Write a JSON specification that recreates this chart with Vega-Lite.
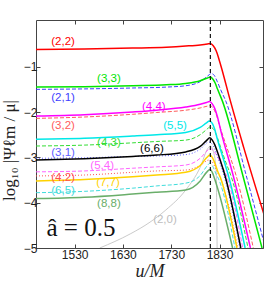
{
 "$schema": "https://vega.github.io/schema/vega-lite/v6.json",
 "width": 227,
 "height": 228,
 "autosize": {"type": "none"},
 "padding": {"left": 36, "top": 20, "right": 3, "bottom": 33},
 "background": "white",
 "config": {
  "view": {"stroke": "#444444", "strokeWidth": 1},
  "axis": {"grid": false, "domain": false, "tickSize": -4, "tickColor": "#444444", "labelFont": "Liberation Sans", "labelFontSize": 12, "labelColor": "#222222"}
 },
 "datasets": {
  "curves": [
   {"s":"(2,2)","u":1450,"v":-0.62},{"s":"(2,2)","u":1550,"v":-0.61},{"s":"(2,2)","u":1650,"v":-0.59},{"s":"(2,2)","u":1720,"v":-0.57},{"s":"(2,2)","u":1760,"v":-0.545},{"s":"(2,2)","u":1790,"v":-0.52},{"s":"(2,2)","u":1805,"v":-0.5},{"s":"(2,2)","u":1811,"v":-0.49},{"s":"(2,2)","u":1817,"v":-0.54},{"s":"(2,2)","u":1823,"v":-0.65},{"s":"(2,2)","u":1829,"v":-0.84},{"s":"(2,2)","u":1836,"v":-1.1},{"s":"(2,2)","u":1851,"v":-1.7},{"s":"(2,2)","u":1880,"v":-2.78},{"s":"(2,2)","u":1922,"v":-4.26},
   {"s":"(3,3)","u":1450,"v":-1.45},{"s":"(3,3)","u":1550,"v":-1.44},{"s":"(3,3)","u":1650,"v":-1.42},{"s":"(3,3)","u":1720,"v":-1.4},{"s":"(3,3)","u":1760,"v":-1.37},{"s":"(3,3)","u":1790,"v":-1.31},{"s":"(3,3)","u":1805,"v":-1.25},{"s":"(3,3)","u":1811,"v":-1.23},{"s":"(3,3)","u":1816,"v":-1.27},{"s":"(3,3)","u":1821,"v":-1.36},{"s":"(3,3)","u":1826,"v":-1.5},{"s":"(3,3)","u":1836,"v":-1.76},{"s":"(3,3)","u":1878,"v":-3.39},{"s":"(3,3)","u":1918,"v":-5.0},
   {"s":"(2,1)","u":1450,"v":-1.5},{"s":"(2,1)","u":1550,"v":-1.49},{"s":"(2,1)","u":1650,"v":-1.47},{"s":"(2,1)","u":1720,"v":-1.45},{"s":"(2,1)","u":1760,"v":-1.42},{"s":"(2,1)","u":1790,"v":-1.33},{"s":"(2,1)","u":1806,"v":-1.2},{"s":"(2,1)","u":1813,"v":-1.15},{"s":"(2,1)","u":1819,"v":-1.19},{"s":"(2,1)","u":1825,"v":-1.32},{"s":"(2,1)","u":1832,"v":-1.5},{"s":"(2,1)","u":1843,"v":-1.76},{"s":"(2,1)","u":1885,"v":-3.39},{"s":"(2,1)","u":1925,"v":-5.0},
   {"s":"(4,4)","u":1450,"v":-2.09},{"s":"(4,4)","u":1550,"v":-2.06},{"s":"(4,4)","u":1650,"v":-2.0},{"s":"(4,4)","u":1700,"v":-1.96},{"s":"(4,4)","u":1760,"v":-1.89},{"s":"(4,4)","u":1790,"v":-1.83},{"s":"(4,4)","u":1803,"v":-1.79},{"s":"(4,4)","u":1809,"v":-1.77},{"s":"(4,4)","u":1815,"v":-1.82},{"s":"(4,4)","u":1820,"v":-1.92},{"s":"(4,4)","u":1825,"v":-2.08},{"s":"(4,4)","u":1834,"v":-2.47},{"s":"(4,4)","u":1858,"v":-3.39},{"s":"(4,4)","u":1894,"v":-5.0},
   {"s":"(3,2)","u":1450,"v":-2.14},{"s":"(3,2)","u":1550,"v":-2.11},{"s":"(3,2)","u":1650,"v":-2.05},{"s":"(3,2)","u":1700,"v":-2.01},{"s":"(3,2)","u":1760,"v":-1.96},{"s":"(3,2)","u":1790,"v":-1.91},{"s":"(3,2)","u":1805,"v":-1.87},{"s":"(3,2)","u":1811,"v":-1.86},{"s":"(3,2)","u":1817,"v":-1.92},{"s":"(3,2)","u":1823,"v":-2.05},{"s":"(3,2)","u":1830,"v":-2.3},{"s":"(3,2)","u":1840,"v":-2.62},{"s":"(3,2)","u":1864,"v":-3.39},{"s":"(3,2)","u":1900,"v":-5.0},
   {"s":"(5,5)","u":1450,"v":-2.6},{"s":"(5,5)","u":1550,"v":-2.58},{"s":"(5,5)","u":1650,"v":-2.53},{"s":"(5,5)","u":1700,"v":-2.5},{"s":"(5,5)","u":1760,"v":-2.45},{"s":"(5,5)","u":1790,"v":-2.34},{"s":"(5,5)","u":1803,"v":-2.24},{"s":"(5,5)","u":1809,"v":-2.2},{"s":"(5,5)","u":1815,"v":-2.25},{"s":"(5,5)","u":1820,"v":-2.38},{"s":"(5,5)","u":1825,"v":-2.58},{"s":"(5,5)","u":1834,"v":-2.9},{"s":"(5,5)","u":1848,"v":-3.39},{"s":"(5,5)","u":1883,"v":-5.0},
   {"s":"(4,3)","u":1450,"v":-2.75},{"s":"(4,3)","u":1550,"v":-2.73},{"s":"(4,3)","u":1650,"v":-2.68},{"s":"(4,3)","u":1700,"v":-2.65},{"s":"(4,3)","u":1760,"v":-2.62},{"s":"(4,3)","u":1790,"v":-2.5},{"s":"(4,3)","u":1804,"v":-2.38},{"s":"(4,3)","u":1810,"v":-2.33},{"s":"(4,3)","u":1817,"v":-2.37},{"s":"(4,3)","u":1824,"v":-2.52},{"s":"(4,3)","u":1832,"v":-2.77},{"s":"(4,3)","u":1842,"v":-3.08},{"s":"(4,3)","u":1855,"v":-3.45},{"s":"(4,3)","u":1889,"v":-5.0},
   {"s":"(6,6)","u":1450,"v":-3.06},{"s":"(6,6)","u":1550,"v":-3.03},{"s":"(6,6)","u":1650,"v":-2.98},{"s":"(6,6)","u":1700,"v":-2.95},{"s":"(6,6)","u":1760,"v":-2.88},{"s":"(6,6)","u":1790,"v":-2.76},{"s":"(6,6)","u":1803,"v":-2.63},{"s":"(6,6)","u":1810,"v":-2.57},{"s":"(6,6)","u":1815,"v":-2.62},{"s":"(6,6)","u":1820,"v":-2.72},{"s":"(6,6)","u":1825,"v":-2.86},{"s":"(6,6)","u":1832,"v":-3.08},{"s":"(6,6)","u":1841,"v":-3.39},{"s":"(6,6)","u":1874,"v":-5.0},
   {"s":"(3,1)","u":1450,"v":-3.02},{"s":"(3,1)","u":1550,"v":-3.01},{"s":"(3,1)","u":1650,"v":-2.98},{"s":"(3,1)","u":1700,"v":-2.97},{"s":"(3,1)","u":1760,"v":-2.94},{"s":"(3,1)","u":1790,"v":-2.82},{"s":"(3,1)","u":1808,"v":-2.66},{"s":"(3,1)","u":1814,"v":-2.7},{"s":"(3,1)","u":1820,"v":-2.82},{"s":"(3,1)","u":1828,"v":-3.05},{"s":"(3,1)","u":1839,"v":-3.4},{"s":"(3,1)","u":1872,"v":-5.0},
   {"s":"(5,4)","u":1450,"v":-3.32},{"s":"(5,4)","u":1550,"v":-3.3},{"s":"(5,4)","u":1650,"v":-3.24},{"s":"(5,4)","u":1700,"v":-3.21},{"s":"(5,4)","u":1760,"v":-3.17},{"s":"(5,4)","u":1790,"v":-3.02},{"s":"(5,4)","u":1804,"v":-2.86},{"s":"(5,4)","u":1810,"v":-2.8},{"s":"(5,4)","u":1816,"v":-2.84},{"s":"(5,4)","u":1824,"v":-2.95},{"s":"(5,4)","u":1832,"v":-3.12},{"s":"(5,4)","u":1846,"v":-3.45},{"s":"(5,4)","u":1878,"v":-5.0},
   {"s":"(4,2)","u":1450,"v":-3.41},{"s":"(4,2)","u":1550,"v":-3.39},{"s":"(4,2)","u":1650,"v":-3.33},{"s":"(4,2)","u":1700,"v":-3.3},{"s":"(4,2)","u":1760,"v":-3.28},{"s":"(4,2)","u":1790,"v":-3.18},{"s":"(4,2)","u":1808,"v":-3.06},{"s":"(4,2)","u":1815,"v":-3.1},{"s":"(4,2)","u":1822,"v":-3.25},{"s":"(4,2)","u":1835,"v":-3.55},{"s":"(4,2)","u":1868,"v":-5.0},
   {"s":"(7,7)","u":1450,"v":-3.52},{"s":"(7,7)","u":1550,"v":-3.49},{"s":"(7,7)","u":1650,"v":-3.43},{"s":"(7,7)","u":1700,"v":-3.39},{"s":"(7,7)","u":1760,"v":-3.33},{"s":"(7,7)","u":1790,"v":-3.18},{"s":"(7,7)","u":1803,"v":-3.01},{"s":"(7,7)","u":1810,"v":-2.95},{"s":"(7,7)","u":1815,"v":-3.0},{"s":"(7,7)","u":1820,"v":-3.12},{"s":"(7,7)","u":1826,"v":-3.3},{"s":"(7,7)","u":1832,"v":-3.45},{"s":"(7,7)","u":1866,"v":-5.0},
   {"s":"(6,5)","u":1450,"v":-3.78},{"s":"(6,5)","u":1550,"v":-3.75},{"s":"(6,5)","u":1650,"v":-3.68},{"s":"(6,5)","u":1700,"v":-3.63},{"s":"(6,5)","u":1760,"v":-3.57},{"s":"(6,5)","u":1790,"v":-3.4},{"s":"(6,5)","u":1805,"v":-3.18},{"s":"(6,5)","u":1810,"v":-3.13},{"s":"(6,5)","u":1816,"v":-3.2},{"s":"(6,5)","u":1822,"v":-3.35},{"s":"(6,5)","u":1829,"v":-3.5},{"s":"(6,5)","u":1862,"v":-5.0},
   {"s":"(8,8)","u":1450,"v":-3.91},{"s":"(8,8)","u":1550,"v":-3.88},{"s":"(8,8)","u":1650,"v":-3.81},{"s":"(8,8)","u":1700,"v":-3.77},{"s":"(8,8)","u":1760,"v":-3.72},{"s":"(8,8)","u":1790,"v":-3.52},{"s":"(8,8)","u":1804,"v":-3.32},{"s":"(8,8)","u":1810,"v":-3.27},{"s":"(8,8)","u":1815,"v":-3.33},{"s":"(8,8)","u":1820,"v":-3.48},{"s":"(8,8)","u":1826,"v":-3.68},{"s":"(8,8)","u":1857,"v":-5.0},
   {"s":"(2,0)","u":1582,"v":-5.0},{"s":"(2,0)","u":1645,"v":-4.69},{"s":"(2,0)","u":1686,"v":-4.43},{"s":"(2,0)","u":1719,"v":-4.16},{"s":"(2,0)","u":1760,"v":-3.72},{"s":"(2,0)","u":1790,"v":-3.22},{"s":"(2,0)","u":1806,"v":-2.8},{"s":"(2,0)","u":1811,"v":-2.75},{"s":"(2,0)","u":1818,"v":-2.9},{"s":"(2,0)","u":1823,"v":-3.3},{"s":"(2,0)","u":1825,"v":-5.0}
  ],
  "labels": [
   {"s":"(2,2)","u":1506,"v":-0.46},
   {"s":"(3,3)","u":1601,"v":-1.28},
   {"s":"(2,1)","u":1506,"v":-1.7},
   {"s":"(4,4)","u":1694,"v":-1.89},
   {"s":"(3,2)","u":1506,"v":-2.31},
   {"s":"(5,5)","u":1738,"v":-2.31},
   {"s":"(4,3)","u":1601,"v":-2.69},
   {"s":"(6,6)","u":1690,"v":-2.82},
   {"s":"(3,1)","u":1506,"v":-2.91},
   {"s":"(5,4)","u":1587,"v":-3.19},
   {"s":"(4,2)","u":1506,"v":-3.46},
   {"s":"(7,7)","u":1599,"v":-3.57},
   {"s":"(6,5)","u":1506,"v":-3.74},
   {"s":"(8,8)","u":1601,"v":-4.03},
   {"s":"(2,0)","u":1717,"v":-4.38}
  ]
 },
 "resolve": {"axis": {"x": "independent", "y": "independent"}},
 "layer": [
  {
   "data": {"name": "curves"},
   "transform": [{"filter": {"field": "s", "oneOf": ["(2,0)"]}}],
   "mark": {"type": "line", "strokeWidth": 0.8, "clip": true, "interpolate": "monotone"},
   "encoding": {
    "x": {"field": "u", "type": "quantitative", "scale": {"domain": [1450, 1920], "nice": false, "zero": false}, "axis": null},
    "y": {"field": "v", "type": "quantitative", "scale": {"domain": [-5, 0.03], "nice": false, "zero": false}, "axis": null},
    "color": {"field": "s", "type": "nominal", "legend": null,
     "scale": {"domain": ["(2,2)","(3,3)","(2,1)","(4,4)","(3,2)","(5,5)","(4,3)","(6,6)","(3,1)","(5,4)","(4,2)","(7,7)","(6,5)","(8,8)","(2,0)"],
      "range": ["#ff0000","#00e600","#3d3dff","#ff00ff","#ff5c5c","#00e8e8","#33dd33","#000000","#6060ff","#ff66ff","#ff5050","#ffd200","#40dcdc","#6aae6a","#bdbdbd"]}}
   }
  },
  {
   "data": {"name": "curves"},
   "transform": [{"filter": {"field": "s", "oneOf": ["(2,1)","(3,2)","(4,3)","(5,4)","(6,5)"]}}],
   "mark": {"type": "line", "strokeWidth": 1, "strokeDash": [4, 2], "clip": true, "interpolate": "monotone"},
   "encoding": {
    "x": {"field": "u", "type": "quantitative", "axis": null},
    "y": {"field": "v", "type": "quantitative", "axis": null},
    "color": {"field": "s", "type": "nominal", "legend": null}
   }
  },
  {
   "data": {"name": "curves"},
   "transform": [{"filter": {"field": "s", "oneOf": ["(3,1)","(4,2)"]}}],
   "mark": {"type": "line", "strokeWidth": 1, "strokeDash": [1, 2], "clip": true, "interpolate": "monotone"},
   "encoding": {
    "x": {"field": "u", "type": "quantitative", "axis": null},
    "y": {"field": "v", "type": "quantitative", "axis": null},
    "color": {"field": "s", "type": "nominal", "legend": null}
   }
  },
  {
   "data": {"name": "curves"},
   "transform": [{"filter": {"field": "s", "oneOf": ["(2,2)","(3,3)","(4,4)","(5,5)","(6,6)","(7,7)","(8,8)"]}}],
   "mark": {"type": "line", "strokeWidth": 1.5, "clip": true, "interpolate": "monotone"},
   "encoding": {
    "x": {"field": "u", "type": "quantitative",
     "axis": {"orient": "bottom", "values": [1530, 1630, 1730, 1830], "format": "d", "labelPadding": 5, "title": "u/M", "titleFont": "Liberation Serif", "titleFontStyle": "italic", "titleFontWeight": "normal", "titleFontSize": 18, "titleColor": "#222222", "titlePadding": 2}},
    "y": {"field": "v", "type": "quantitative",
     "axis": {"orient": "left", "values": [-1, -2, -3, -4, -5], "labelPadding": 3, "title": "log₁₀ |Ψℓm / μ|", "titleFont": "Liberation Serif", "titleFontWeight": "normal", "titleFontSize": 17, "titleColor": "#222222", "titleX": -27, "titleY": 130, "titleAlign": "center", "titleBaseline": "middle"}},
    "color": {"field": "s", "type": "nominal", "legend": null}
   }
  },
  {
   "data": {"values": [{"u": 1811}]},
   "mark": {"type": "rule", "strokeDash": [4, 3], "strokeWidth": 1.2, "color": "#111111"},
   "encoding": {
    "x": {"field": "u", "type": "quantitative", "axis": {"orient": "top", "values": [1530, 1630, 1730, 1830], "labels": false, "title": null}}
   }
  },
  {
   "data": {"name": "labels"},
   "mark": {"type": "text", "font": "Liberation Sans", "fontSize": 11.5, "align": "center", "baseline": "middle"},
   "encoding": {
    "x": {"field": "u", "type": "quantitative", "axis": null},
    "y": {"field": "v", "type": "quantitative", "axis": {"orient": "right", "values": [-1, -2, -3, -4, -5], "labels": false, "title": null}},
    "text": {"field": "s"},
    "color": {"field": "s", "type": "nominal", "legend": null}
   }
  },
  {
   "data": {"values": [{"u": 1543, "v": -4.56, "t": "â = 0.5"}]},
   "mark": {"type": "text", "font": "Liberation Serif", "fontSize": 25, "align": "center", "baseline": "middle", "color": "#111111"},
   "encoding": {
    "x": {"field": "u", "type": "quantitative", "axis": null},
    "y": {"field": "v", "type": "quantitative", "axis": null},
    "text": {"field": "t"}
   }
  }
 ]
}
